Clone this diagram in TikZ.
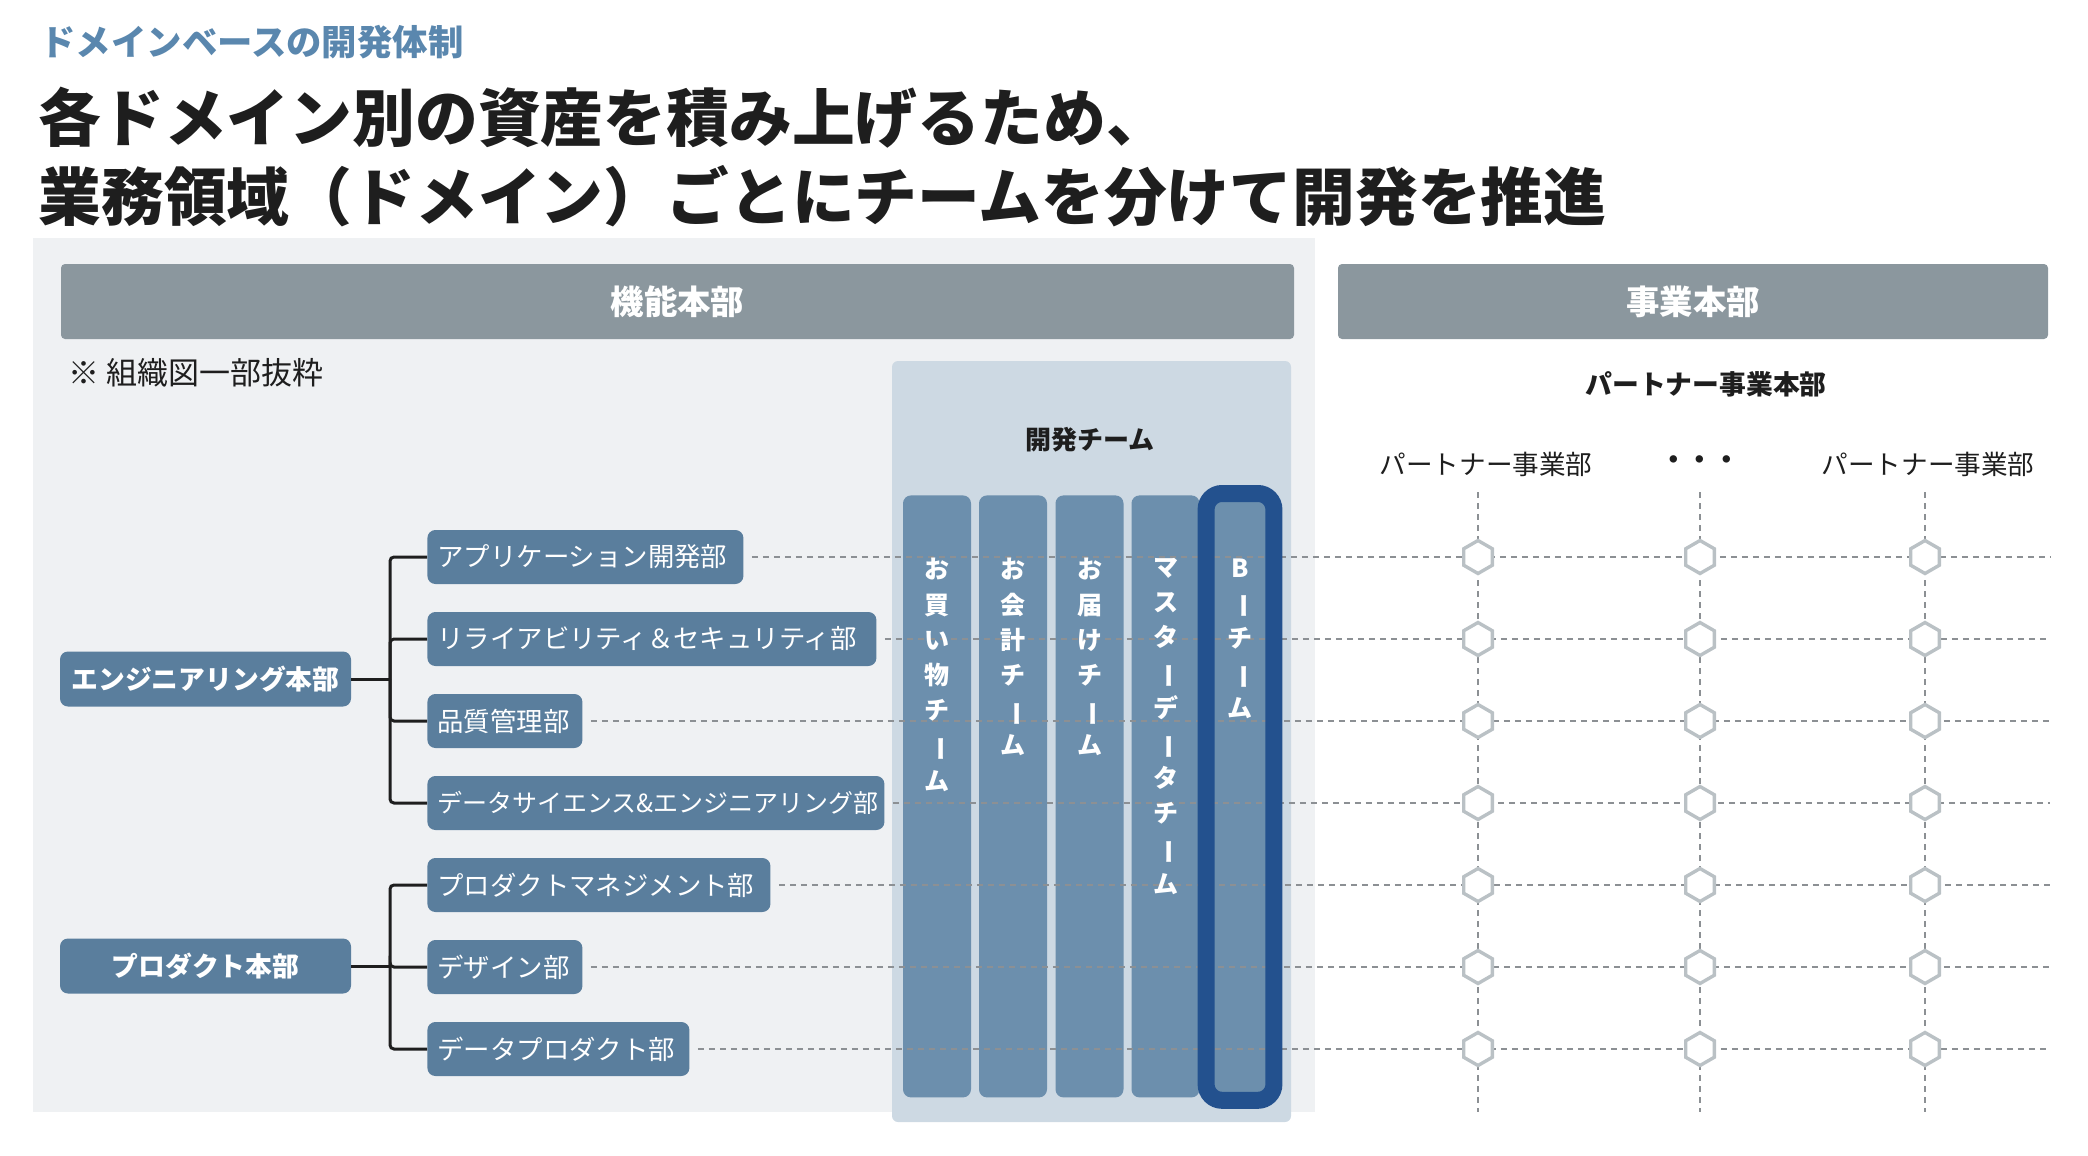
\documentclass[tikz,border=0pt]{standalone}
\usepackage{fontspec}
\setmainfont{Noto Sans CJK JP}
\usetikzlibrary{positioning,shapes.geometric}

\definecolor{deptblue}{HTML}{5A7E9D}
\definecolor{teamblue}{HTML}{6C8FAD}
\definecolor{bteam}{HTML}{23518E}
\definecolor{panelgray}{HTML}{EFF1F3}
\definecolor{devpanel}{HTML}{CDD9E3}
\definecolor{headgray}{HTML}{8B979E}
\definecolor{subblue}{HTML}{5A87AE}
\definecolor{dashgray}{HTML}{8C9094}
\definecolor{hexgray}{HTML}{BAC1C5}
\definecolor{ink}{HTML}{1E1E1E}

\newcommand{\vbar}{\rotatebox[origin=c]{-90}{ー}}

\tikzset{
  dept/.style={fill=deptblue, rounded corners=4pt, text=white, anchor=west,
    minimum height=27pt, inner xsep=5pt, inner ysep=0pt, text width=#1, align=left,
    font=\fontsize{13.2}{13.2}\selectfont},
  head/.style={fill=deptblue, rounded corners=4pt, text=white,
    minimum width=145.5pt, minimum height=27.5pt, inner sep=0pt,
    font=\bfseries\fontsize{13.4}{13.4}\selectfont},
  bar/.style={fill=headgray, rounded corners=2pt, text=white, inner sep=0pt,
    font=\bfseries\fontsize{16.7}{16.7}\selectfont},
  team/.style={fill=teamblue, rounded corners=4pt, anchor=north, inner sep=0pt,
    minimum width=34pt, minimum height=301pt},
  teamtext/.style={text=white, anchor=north, inner sep=0pt, align=center,
    font=\bfseries\fontsize{12.5}{17.6}\selectfont},
  label/.style={text=ink, inner sep=0pt, font=\fontsize{13.3}{13.3}\selectfont},
  link/.style={dashgray, line width=1pt, dash pattern=on 3pt off 2.5pt},
  tree/.style={ink, line width=1.5pt, rounded corners=2pt},
  hex/.style={regular polygon, regular polygon sides=6, shape border rotate=30,
    draw=hexgray, line width=1.7pt, fill=white, minimum size=16.5pt, inner sep=0pt},
}

\begin{document}
\begin{tikzpicture}[x=0.5pt,y=-0.5pt]
  \useasboundingbox (0,0) rectangle (2088,1156);

  % heading
  \node[anchor=west, inner sep=0pt, text=subblue,
    font=\bfseries\fontsize{17.7}{17.7}\selectfont] (kicker) at (40,42) {ドメインベースの開発体制};
  \node[anchor=west, inner sep=0pt, align=left, text=ink,
    font=\bfseries\fontsize{31.4}{39.5}\selectfont] (headline) at (38,157)
    {各ドメイン別の資産を積み上げるため、\\業務領域（ドメイン）ごとにチームを分けて開発を推進};

  % panels and headers
  \fill[panelgray] (33,238) rectangle (1315,1112);
  \node[bar, minimum width=616.5pt, minimum height=37.5pt] (func) at (677.5,301.5) {機能本部};
  \node[bar, minimum width=355pt, minimum height=37.5pt] (biz) at (1693,301.5) {事業本部};
  \node[label, anchor=west, font=\fontsize{15.5}{15.5}\selectfont] (note) at (68,373) {※ 組織図一部抜粋};
  \fill[devpanel, rounded corners=3pt] (892,361) rectangle (1291,1122);
  \node[label, font=\bfseries\fontsize{13}{13}\selectfont] (devteam) at (1090,440) {開発チーム};

  % org tree
  \node[head] (eng) at (205.5,679) {エンジニアリング本部};
  \node[head] (prod) at (205.5,966) {プロダクト本部};
  \node[dept=148pt] (app) at (427,557) {アプリケーション開発部};
  \node[dept=214.5pt] (rel) at (427,639) {リライアビリティ＆セキュリティ部};
  \node[dept=67.5pt] (qa) at (427,721) {品質管理部};
  \node[dept=218.5pt, font=\fontsize{12.5}{12.5}\selectfont] (ds) at (427,803) {データサイエンス\&エンジニアリング部};
  \node[dept=161.5pt] (pm) at (427,885) {プロダクトマネジメント部};
  \node[dept=67.5pt] (des) at (427,967) {デザイン部};
  \node[dept=121pt] (dp) at (427,1049) {データプロダクト部};

  \coordinate (engfork) at (390,679);
  \coordinate (prodfork) at (390,966);
  \draw[tree] (eng.east) -- (engfork);
  \draw[tree] (prod.east) -- (prodfork);
  \foreach \d in {app,rel,qa,ds}
    \draw[tree] (engfork) |- (\d.west);
  \foreach \d in {pm,des,dp}
    \draw[tree] (prodfork) |- (\d.west);

  % development teams
  \node[team] (shop) at (937,495) {};
  \node[team] (acct) at (1013,495) {};
  \node[team] (dlv) at (1089.5,495) {};
  \node[team] (mdm) at (1165.5,495) {};
  \node[team, minimum width=33.5pt, minimum height=303pt] (bi) at (1240,493.5) {};

  % business side
  \node[label, font=\bfseries\fontsize{13.4}{13.4}\selectfont] (partner) at (1706,384) {パートナー事業本部};
  \node[label] (pa) at (1486,464) {パートナー事業部};
  \node[label, font=\bfseries\fontsize{13.3}{13.3}\selectfont] (pb) at (1700,463) {・・・};
  \node[label] (pc) at (1928,464) {パートナー事業部};
  \foreach \p/\x in {pa/1478,pb/1700,pc/1925} {
    \coordinate (\p-top) at (\x,492);
    \coordinate (\p-bot) at (\x,1112);
    \draw[link] (\p-top) -- (\p-bot);
  }
  \coordinate (rim) at (2050,557);
  \foreach \d in {app,rel,qa,ds,pm,des,dp}
    \draw[link, shorten <=4pt] (\d.east) -- (\d.east -| rim);

  \draw[bteam, line width=8.5pt, rounded corners=8pt] (bi.north west) rectangle (bi.south east);

  \foreach \d in {app,rel,qa,ds,pm,des,dp}
    \foreach \p in {pa,pb,pc}
      \node[hex] (hx-\d-\p) at (\p-top |- \d.east) {};

  % team names
  \node[teamtext] at (shop.north |- 0,558) {お\\買\\い\\物\\チ\\\vbar\\ム};
  \node[teamtext] at (acct.north |- 0,558) {お\\会\\計\\チ\\\vbar\\ム};
  \node[teamtext] at (dlv.north |- 0,558) {お\\届\\け\\チ\\\vbar\\ム};
  \node[teamtext] at (mdm.north |- 0,558) {マ\\ス\\タ\\\vbar\\デ\\\vbar\\タ\\チ\\\vbar\\ム};
  \node[teamtext] at (bi.north |- 0,558) {B\\\vbar\\チ\\\vbar\\ム};
\end{tikzpicture}
\end{document}
